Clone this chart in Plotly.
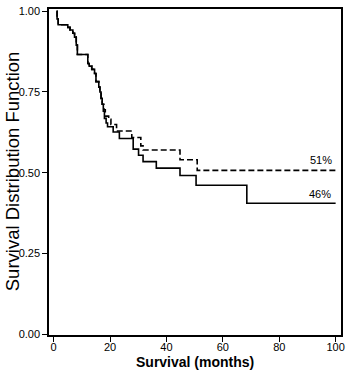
import plotly.graph_objects as go

# Solid group: time of each step (months) and survival after the step
times_solid = [1.0, 1.2, 1.6, 5.0, 5.8, 6.8, 7.4, 8.0, 8.4, 12.1, 12.6, 13.5, 14.5,
               15.0, 16.0, 16.4, 16.8, 17.2, 17.6, 18.0, 18.6, 19.1, 21.1, 23.3,
               28.2, 30.1, 31.7, 36.4, 44.8, 50.5, 68.5, 100.0]
surv_solid = [1.0, 0.976, 0.958, 0.950, 0.942, 0.932, 0.920, 0.895, 0.866, 0.838,
              0.830, 0.820, 0.807, 0.782, 0.765, 0.750, 0.730, 0.712, 0.690, 0.668,
              0.654, 0.642, 0.626, 0.606, 0.573, 0.554, 0.534, 0.514, 0.491, 0.461,
              0.405, 0.405]

# Dashed group
times_dashed = [1.0, 1.2, 1.6, 5.0, 5.8, 6.8, 7.4, 8.0, 8.4, 12.1, 12.6, 13.5, 14.5,
                15.0, 16.0, 16.4, 16.8, 17.2, 17.8, 18.3, 19.5, 20.3, 22.3, 27.7,
                30.9, 31.7, 44.8, 50.9, 100.0]
surv_dashed = [1.0, 0.976, 0.958, 0.950, 0.942, 0.932, 0.920, 0.895, 0.866, 0.838,
               0.830, 0.820, 0.807, 0.782, 0.765, 0.750, 0.730, 0.712, 0.695, 0.675,
               0.665, 0.649, 0.629, 0.609, 0.583, 0.570, 0.540, 0.507, 0.507]

x_ticks = [0, 20, 40, 60, 80, 100]
y_ticks = [0.0, 0.25, 0.5, 0.75, 1.0]

labels = ["51%", "46%"]
label_x = [94.8, 94.5]
label_y = [0.540, 0.434]

x_title = "Survival (months)"
y_title = "Survival Distribution Function"

font_family = "Liberation Sans, Arial, sans-serif"

fig = go.Figure()
fig.add_trace(go.Scatter(x=times_dashed, y=surv_dashed, mode="lines",
                         line=dict(color="black", width=1.6, dash="6px,3px", shape="hv"),
                         showlegend=False, hoverinfo="skip"))
fig.add_trace(go.Scatter(x=times_solid, y=surv_solid, mode="lines",
                         line=dict(color="black", width=1.6, shape="hv"),
                         showlegend=False, hoverinfo="skip"))

for t, xx, yy in zip(labels, label_x, label_y):
    fig.add_annotation(x=xx, y=yy, text=t, showarrow=False,
                       font=dict(size=11, color="black", family=font_family))

# Axis titles placed as annotations for exact positioning
fig.add_annotation(xref="paper", yref="paper", x=0.5, y=-0.082, text="<b>" + x_title + "</b>",
                   showarrow=False, xanchor="center", yanchor="middle",
                   font=dict(size=14, color="black", family=font_family))
fig.add_annotation(xref="paper", yref="paper", x=-0.126, y=0.503, text=y_title,
                   showarrow=False, xanchor="center", yanchor="middle", textangle=-90,
                   font=dict(size=18.5, color="black", family=font_family))

fig.update_layout(
    width=350, height=375,
    margin=dict(l=49, r=7, t=5, b=40),
    paper_bgcolor="white", plot_bgcolor="white",
    font=dict(family=font_family, color="black"),
)
fig.update_xaxes(
    range=[-1.66, 101.9], tickvals=x_ticks, ticktext=[str(v) for v in x_ticks],
    ticks="outside", ticklen=5, tickwidth=1.2, tickcolor="black",
    showline=True, linecolor="black", linewidth=1.5, mirror=True,
    showgrid=False, zeroline=False, ticklabelstandoff=-4,
    tickfont=dict(size=11, family=font_family),
)
fig.update_yaxes(
    range=[-0.003, 1.007], tickvals=y_ticks, ticktext=[f"{v:.2f}" for v in y_ticks],
    ticks="outside", ticklen=5, tickwidth=1.2, tickcolor="black",
    showline=True, linecolor="black", linewidth=1.5, mirror=True,
    showgrid=False, zeroline=False,
    tickfont=dict(size=11, family=font_family),
)

fig.write_html("out.html")
